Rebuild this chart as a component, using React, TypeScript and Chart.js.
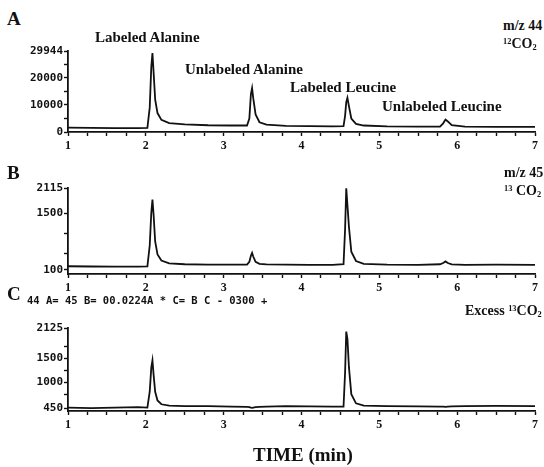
import React, { useEffect, useRef } from "react";
import { Chart, registerables } from "chart.js";

Chart.register(...registerables);

// ---- data (time in min) ----
const TIME = [1.0, 1.3, 1.6, 1.9, 2.02, 2.05, 2.07, 2.085, 2.1, 2.12, 2.15, 2.2, 2.3, 2.5, 2.8, 3.1, 3.3, 3.33, 3.35, 3.365, 3.38, 3.41, 3.46, 3.55, 3.8, 4.1, 4.4, 4.54, 4.56, 4.575, 4.59, 4.61, 4.64, 4.7, 4.8, 5.1, 5.5, 5.78, 5.82, 5.85, 5.88, 5.93, 6.1, 6.5, 7.0];

const MZ44 = [1600, 1500, 1400, 1400, 1500, 9000, 24000, 29200, 22000, 12000, 7000, 4500, 3300, 2800, 2500, 2400, 2400, 5000, 14000, 16200, 12500, 6500, 3600, 2700, 2300, 2200, 2100, 2200, 6000, 11000, 12600, 9500, 5000, 3000, 2400, 2100, 2000, 2000, 3200, 4600, 3900, 2500, 2000, 1900, 1900];

const MZ45 = [190, 185, 180, 180, 190, 700, 1500, 1830, 1450, 800, 480, 330, 260, 240, 230, 230, 230, 300, 450, 520, 430, 300, 250, 235, 230, 225, 225, 240, 1100, 2110, 1700, 1150, 550, 320, 250, 230, 225, 240, 270, 310, 270, 235, 225, 230, 225];

const EXCESS = [470, 460, 470, 480, 470, 800, 1300, 1450, 1150, 800, 620, 540, 510, 500, 500, 490, 485, 480, 470, 465, 470, 480, 485, 490, 500, 495, 490, 490, 1200, 2050, 1900, 1300, 750, 560, 510, 500, 495, 490, 490, 485, 490, 495, 500, 505, 500];

const X_TICKS = [1, 1.25, 1.5, 1.75, 2, 2.25, 2.5, 2.75, 3, 3.25, 3.5, 3.75, 4, 4.25, 4.5, 4.75, 5, 5.25, 5.5, 5.75, 6, 6.25, 6.5, 6.75, 7];
const X_LABELS = [1, 2, 3, 4, 5, 6, 7];

const A_TICKS = [0, 5000, 10000, 15000, 20000, 25000, 29944];
const A_LABELS = [0, 10000, 20000, 29944];
const B_TICKS = [100, 500, 1000, 1500, 2115];
const B_LABELS = [100, 1500, 2115];
const C_TICKS = [450, 750, 1000, 1250, 1500, 1750, 2125];
const C_LABELS = [450, 1000, 1500, 2125];

const W = 544;
const AREA_LEFT = 68;
const AREA_RIGHT = 535;

type PanelProps = {
  values: number[];
  top: number;
  height: number;
  areaTop: number;
  areaBottom: number;
  yMin: number;
  yMax: number;
  yTicks: number[];
  yLabels: number[];
};

function Panel(p: PanelProps) {
  const ref = useRef<HTMLCanvasElement | null>(null);
  useEffect(() => {
    if (!ref.current) return;
    const xAxisH = p.top + p.height - p.areaBottom;
    const chart = new Chart(ref.current, {
      type: "line",
      data: {
        datasets: [
          {
            data: TIME.map((t, i) => ({ x: t, y: p.values[i] })),
            borderColor: "#111",
            borderWidth: 1.8,
            pointRadius: 0,
            tension: 0,
            fill: false,
          },
        ],
      },
      options: {
        responsive: false,
        animation: false,
        devicePixelRatio: 1,
        layout: {
          padding: { top: p.areaTop - p.top, left: 0, right: W - AREA_RIGHT, bottom: 0 },
        },
        plugins: { legend: { display: false }, tooltip: { enabled: false } },
        scales: {
          x: {
            type: "linear",
            min: 1,
            max: 7,
            afterBuildTicks: (s: any) => {
              s.ticks = X_TICKS.map((v) => ({ value: v }));
            },
            afterFit: (s: any) => {
              s.height = xAxisH;
            },
            ticks: {
              autoSkip: false,
              maxRotation: 0,
              padding: 3,
              color: "#111",
              font: { family: "Liberation Serif", weight: "bold", size: 12 },
              callback: (v: any) => (X_LABELS.includes(Number(v)) ? String(v) : ""),
            },
            grid: { drawOnChartArea: false, drawTicks: true, tickLength: 4, tickColor: "#111", tickWidth: 1.4 },
            border: { display: true, color: "#111", width: 1.8 },
          },
          y: {
            type: "linear",
            min: p.yMin,
            max: p.yMax,
            afterBuildTicks: (s: any) => {
              s.ticks = p.yTicks.map((v) => ({ value: v }));
            },
            afterFit: (s: any) => {
              s.width = AREA_LEFT;
            },
            ticks: {
              autoSkip: false,
              padding: 1,
              color: "#111",
              font: { family: "DejaVu Sans Mono", weight: "bold", size: 11 },
              callback: (v: any) => (p.yLabels.includes(Number(v)) ? String(v) : ""),
            },
            grid: { drawOnChartArea: false, drawTicks: true, tickLength: 4, tickColor: "#111", tickWidth: 1.4 },
            border: { display: true, color: "#111", width: 1.8 },
          },
        },
      },
    });
    return () => chart.destroy();
  }, []);
  return (
    <canvas
      ref={ref}
      width={W}
      height={p.height}
      style={{ position: "absolute", left: 0, top: p.top, width: W, height: p.height }}
    />
  );
}

const serif = "'Liberation Serif', 'Times New Roman', serif";

function T(props: { x: number; y: number; size: number; children: any; mono?: boolean }) {
  return (
    <div
      style={{
        position: "absolute",
        left: props.x,
        top: props.y,
        fontSize: props.size,
        lineHeight: 1,
        fontWeight: "bold",
        fontFamily: props.mono ? "'DejaVu Sans Mono', monospace" : serif,
        whiteSpace: "nowrap",
        color: "#111",
        zIndex: 2,
      }}
    >
      {props.children}
    </div>
  );
}

const supS: React.CSSProperties = { fontSize: "0.6em", verticalAlign: "0.5em" };
const subS: React.CSSProperties = { fontSize: "0.6em", verticalAlign: "-0.25em" };

export default function App() {
  return (
    <div style={{ position: "absolute", left: 0, top: 0, width: W, height: 467, overflow: "hidden", background: "#fff" }}>
      <Panel values={MZ44} top={35} height={125} areaTop={51} areaBottom={132} yMin={0} yMax={29944} yTicks={A_TICKS} yLabels={A_LABELS} />
      <Panel values={MZ45} top={175} height={125} areaTop={188} areaBottom={274} yMin={0} yMax={2115} yTicks={B_TICKS} yLabels={B_LABELS} />
      <Panel values={EXCESS} top={315} height={130} areaTop={328} areaBottom={411} yMin={400} yMax={2125} yTicks={C_TICKS} yLabels={C_LABELS} />

      <T x={7} y={9} size={19}>A</T>
      <T x={95} y={30} size={15}>Labeled Alanine</T>
      <T x={185} y={62} size={15}>Unlabeled Alanine</T>
      <T x={290} y={80} size={15}>Labeled Leucine</T>
      <T x={382} y={99} size={15}>Unlabeled Leucine</T>
      <T x={503} y={19} size={14}>m/z 44</T>
      <T x={503} y={37} size={14}>
        <span style={supS}>12</span>CO<span style={subS}>2</span>
      </T>

      <T x={7} y={163} size={19}>B</T>
      <T x={504} y={166} size={14}>m/z 45</T>
      <T x={504} y={184} size={14}>
        <span style={supS}>13</span> CO<span style={subS}>2</span>
      </T>

      <T x={7} y={284} size={19}>C</T>
      <T x={27} y={295} size={10.5} mono>44 A= 45 B= 00.0224A * C= B C - 0300 +</T>
      <T x={465} y={304} size={14}>
        Excess <span style={supS}>13</span>CO<span style={subS}>2</span>
      </T>

      <T x={253} y={445} size={19}>TIME (min)</T>
    </div>
  );
}
